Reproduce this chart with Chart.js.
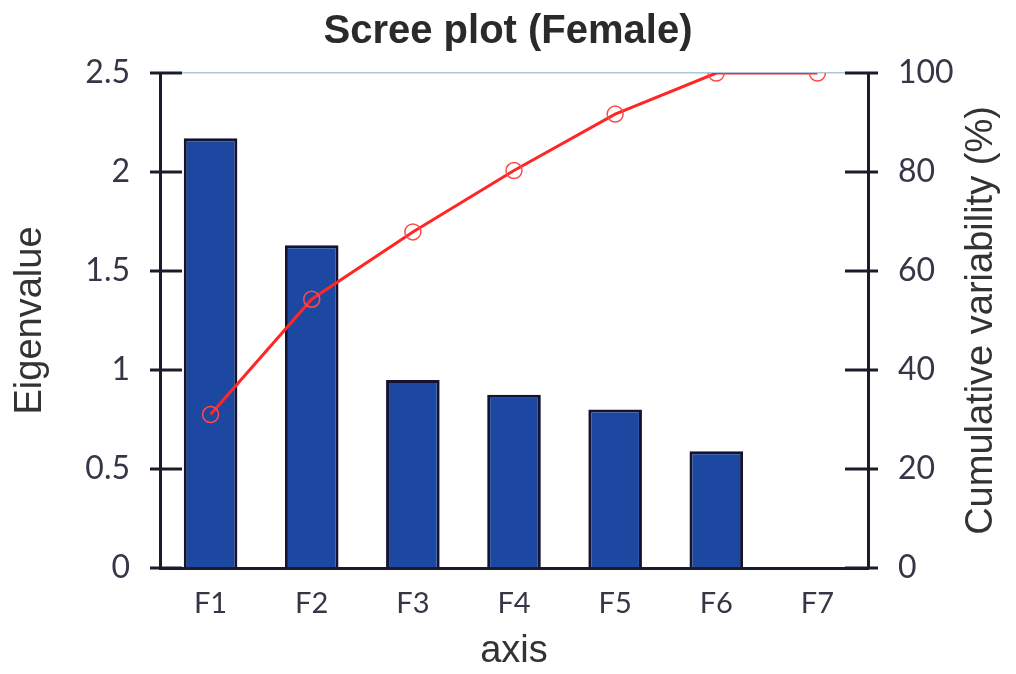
<!DOCTYPE html>
<html>
<head>
<meta charset="utf-8">
<script src="https://cdn.jsdelivr.net/npm/chart.js@4/dist/chart.umd.min.js"></script>
<style>
  body { margin: 0; background: #fff; }
  #wrap { width: 1016px; height: 674px; }
</style>
</head>
<body>
<div id="wrap"><canvas id="chart" width="1016" height="674"></canvas></div>
<script>
// data
const categories = ['F1', 'F2', 'F3', 'F4', 'F5', 'F6', 'F7'];
const eigenvalues = [2.17, 1.63, 0.95, 0.875, 0.80, 0.59, 0.005];
const cumulative = [31.0, 54.3, 67.9, 80.3, 91.7, 100, 100];
const leftTicks = [0, 0.5, 1, 1.5, 2, 2.5];
const rightTicks = [0, 20, 40, 60, 80, 100];

const axisColor = '#1b1b2a';
const labelColor = '#363646';

// tick marks crossing the axis line + right title (reads bottom to top)
const axisDecor = {
  id: 'axisDecor',
  beforeDatasetsDraw(chart) {
    const ctx = chart.ctx;
    const area = chart.chartArea;
    ctx.save();
    ctx.strokeStyle = axisColor;
    ctx.lineWidth = 3;
    const y = chart.scales.y;
    leftTicks.forEach(v => {
      const py = y.getPixelForValue(v);
      ctx.beginPath();
      ctx.moveTo(area.left - 10, py);
      ctx.lineTo(area.left + 22, py);
      ctx.stroke();
    });
    const y1 = chart.scales.y1;
    rightTicks.forEach(v => {
      const py = y1.getPixelForValue(v);
      ctx.beginPath();
      ctx.moveTo(area.right - 23, py);
      ctx.lineTo(area.right + 10, py);
      ctx.stroke();
    });
    ctx.restore();
  },
  afterDraw(chart) {
    const ctx = chart.ctx;
    const area = chart.chartArea;
    ctx.save();
    ctx.translate(982, (area.top + area.bottom) / 2);
    ctx.rotate(-Math.PI / 2);
    ctx.font = '38px "Liberation Sans", Arial, sans-serif';
    ctx.fillStyle = '#333333';
    ctx.textAlign = 'center';
    ctx.textBaseline = 'middle';
    ctx.fillText('Cumulative variability (%)', 0, 0);
    ctx.restore();
  }
};

new Chart(document.getElementById('chart'), {
  data: {
    labels: categories,
    datasets: [
      {
        type: 'line',
        label: 'Cumulative variability (%)',
        data: cumulative,
        yAxisID: 'y1',
        borderColor: '#ff2626',
        borderWidth: 3,
        tension: 0,
        pointRadius: 8,
        pointBorderWidth: 1.5,
        pointBorderColor: '#ff4a4a',
        pointBackgroundColor: 'rgba(0,0,0,0)',
        order: 0
      },
      {
        type: 'bar',
        label: 'Eigenvalue',
        data: eigenvalues,
        yAxisID: 'y',
        backgroundColor: '#1c48a2',
        borderColor: '#141432',
        borderWidth: 3,
        borderSkipped: 'bottom',
        categoryPercentage: 1,
        barPercentage: 0.53,
        order: 1
      }
    ]
  },
  options: {
    responsive: false,
    animation: false,
    layout: { padding: 0 },
    plugins: {
      legend: { display: false },
      tooltip: { enabled: false },
      title: {
        display: true,
        text: 'Scree plot (Female)',
        color: '#2a2a2a',
        font: { family: '"Liberation Sans", Arial, sans-serif', size: 40, weight: 'bold', lineHeight: 1.2 },
        padding: { top: 8, bottom: 17 }
      }
    },
    scales: {
      x: {
        grid: { display: false, drawTicks: false },
        border: { display: true, color: axisColor, width: 3 },
        ticks: {
          color: labelColor,
          font: { family: 'Lato, "Open Sans", sans-serif', size: 29 },
          padding: 18
        },
        title: {
          display: true,
          text: 'axis',
          color: '#333333',
          font: { family: '"Liberation Sans", Arial, sans-serif', size: 38 },
          padding: { top: 0, bottom: 0 }
        },
        afterFit(scale) { scale.height = 106; }
      },
      y: {
        position: 'left',
        min: 0,
        max: 2.5,
        afterBuildTicks(scale) { scale.ticks = leftTicks.map(v => ({ value: v })); },
        grid: {
          drawTicks: false,
          color: ctx => (ctx.tick && ctx.tick.value === 2.5 ? 'rgba(150,185,210,0.8)' : 'rgba(0,0,0,0)'),
          lineWidth: 1.5
        },
        border: { display: true, color: axisColor, width: 3 },
        ticks: {
          color: labelColor,
          font: { family: 'Lato, "Open Sans", sans-serif', size: 32 },
          padding: 30,
          callback: value => String(value)
        },
        title: {
          display: true,
          text: 'Eigenvalue',
          color: '#333333',
          font: { family: '"Liberation Sans", Arial, sans-serif', size: 38 },
          padding: { top: 8, bottom: 0 }
        },
        afterFit(scale) { scale.width = 160; }
      },
      y1: {
        position: 'right',
        min: 0,
        max: 100,
        afterBuildTicks(scale) { scale.ticks = rightTicks.map(v => ({ value: v })); },
        grid: { display: false, drawTicks: false },
        border: { display: true, color: axisColor, width: 3 },
        ticks: {
          color: labelColor,
          font: { family: 'Lato, "Open Sans", sans-serif', size: 32 },
          padding: 30,
          callback: value => String(value)
        },
        afterFit(scale) { scale.width = 148; }
      }
    }
  },
  plugins: [axisDecor]
});
</script>
</body>
</html>
